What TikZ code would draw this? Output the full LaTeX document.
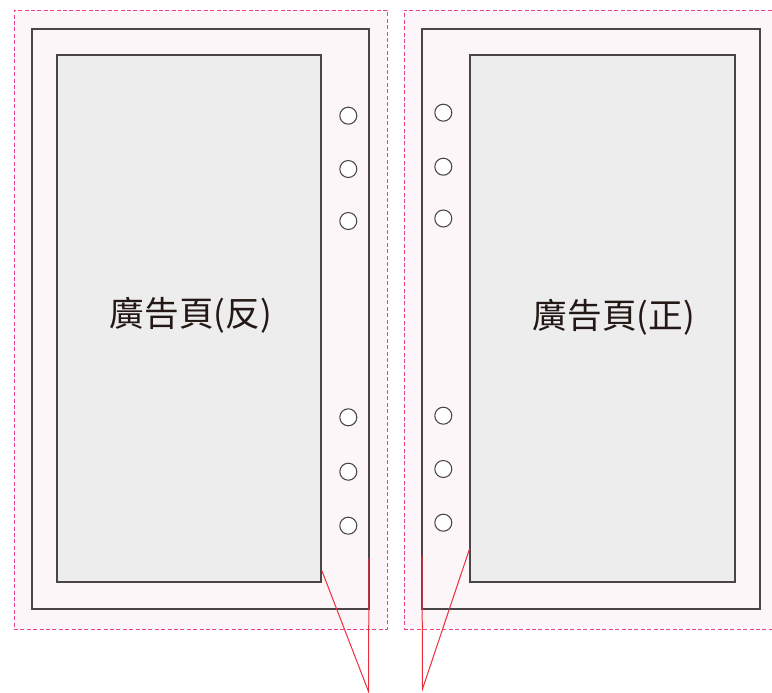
\documentclass[tikz,border=0pt]{standalone}
\usepackage{fontspec}
\newfontfamily\cjk{Noto Sans CJK TC}

\begin{document}
\begin{tikzpicture}[x=0.75pt,y=-0.75pt,
  bleed/.style={rectangle,inner sep=0,draw=bleedpink,fill=paperpink,line width=0.75pt,dash pattern=on 3pt off 1.8pt},
  cover/.style={rectangle,inner sep=0,draw=framegray,line width=0.8pt},
  adpage/.style={rectangle,inner sep=0,draw=framegray,fill=adgray,line width=0.8pt},
  adtext/.style={font=\cjk\fontsize{26}{30}\selectfont,text=inkbrown},
  hole/.style={circle,inner sep=0,minimum size=12.75pt,draw=framegray,fill=white,line width=0.8pt},
  guide/.style={draw=guidered,line width=0.75pt}]
\definecolor{bleedpink}{HTML}{E8418F}
\definecolor{paperpink}{HTML}{FCF6F8}
\definecolor{framegray}{HTML}{4A4546}
\definecolor{adgray}{HTML}{EDEDED}
\definecolor{inkbrown}{HTML}{231815}
\definecolor{guidered}{HTML}{EE2D3A}
\clip (0,0) rectangle (772,693);
\node[bleed,minimum width=279.75pt,minimum height=464.25pt] (backbleed) at (200.5,319.5) {};
\node[bleed,minimum width=297pt,minimum height=464.25pt] (frontbleed) at (602,319.5) {};
\node[cover,minimum width=252.75pt,minimum height=435pt] (backcover) at (200.5,319) {};
\node[cover,minimum width=253.5pt,minimum height=435pt] (frontcover) at (591,319) {};
\node[adpage,minimum width=198pt,minimum height=395.25pt] (backpage) at (189,318.5) {};
\node[adpage,minimum width=198.75pt,minimum height=395.25pt] (frontpage) at (602.5,318.5) {};
\node[adtext] (backlabel) at (191,315) {廣告頁(反)};
\node[adtext] (frontlabel) at (614,317) {廣告頁(正)};
  \foreach \n/\yl/\yr in {1/115.7/112.7,2/169/166.7,3/221/218.5,4/417.3/415.7,5/471.7/469,6/525.7/522.7}
  {  \node[hole] (backhole\n) at (348.3,\yl) {};
     \node[hole] (fronthole\n) at (443.3,\yr) {};}
\coordinate (backtip) at (368.5,691.5);
\coordinate (fronttip) at (422.5,689);
\coordinate (backspine) at (369,558);
\coordinate (backedge) at (322,571);
\coordinate (frontspine) at (422,555.7);
\coordinate (frontedge) at (469.5,549);
\draw[guide] (backspine) -- (backtip) -- (backedge);
\draw[guide] (frontspine) -- (fronttip) -- (frontedge);
\end{tikzpicture}
\end{document}
